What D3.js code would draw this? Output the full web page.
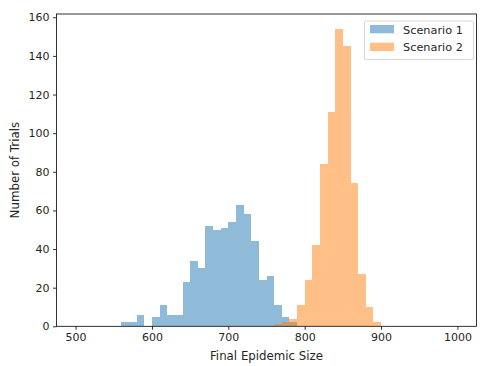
<!DOCTYPE html>
<html lang="en">
<head>
<meta charset="UTF-8">
<title>Final Epidemic Size</title>
<script src="https://d3js.org/d3.v7.min.js"></script>
<style>
	body{margin:0;background:#fff}
	svg text{font-family:"DejaVu Sans",sans-serif;fill:#262626}
</style>
</head>
<body>
<svg width="487" height="366"></svg>
<script>
// histogram counts, bin width 10
var binWidth = 10
var s1Start = 560
var s1Counts = [2,2,6,0,5,11,6,6,23,34,30,52,50,51,54,63,58,44,24,26,11,5,2]
var s2Start = 760
var s2Counts = [1,2,4,11,24,42,84,111,154,145,74,27,10,2]
var xTicks = [500,600,700,800,900,1000]
var yTicks = [0,20,40,60,80,100,120,140,160]
var seriesNames = ["Scenario 1","Scenario 2"]
var colors = ["#1f77b4","#ff7f0e"]

var svg = d3.select("svg")
var mLeft = 56.5, mRight = 476.5, mTop = 14, mBottom = 326.3

var x = d3.scaleLinear().domain([475,1025]).range([mLeft,mRight])
var yMax = d3.max(s1Counts.concat(s2Counts))*1.05
var y = d3.scaleLinear().domain([0,yMax]).range([mBottom,mTop])

function bars(start, counts, color){
	var d = counts.map(function(c,i){ return {x0:start+i*binWidth, c:c} })
	svg.append("g").selectAll("rect").data(d).enter().append("rect")
		.attr("x", function(d){ return x(d.x0) })
		.attr("width", function(d){ return x(d.x0+binWidth)-x(d.x0) })
		.attr("y", function(d){ return y(d.c) })
		.attr("height", function(d){ return y(0)-y(d.c) })
		.attr("fill", color)
		.attr("fill-opacity", 0.5)
		.attr("shape-rendering","crispEdges")
}
bars(s1Start, s1Counts, colors[0])
bars(s2Start, s2Counts, colors[1])

// axes
svg.append("g").attr("transform","translate(0,"+mBottom+")")
	.call(d3.axisBottom(x).tickValues(xTicks).tickFormat(d3.format("d")).tickSize(3.5).tickPadding(3.5))
svg.append("g").attr("transform","translate("+mLeft+",0)")
	.call(d3.axisLeft(y).tickValues(yTicks).tickFormat(d3.format("d")).tickSize(3.5).tickPadding(3.5))
svg.selectAll(".domain").remove()
svg.selectAll(".tick line").attr("stroke","#000").attr("stroke-width",0.8)
svg.selectAll(".tick text").attr("font-size","11px").attr("fill","#262626")

// frame
svg.append("rect").attr("x",mLeft).attr("y",mTop)
	.attr("width",mRight-mLeft).attr("height",mBottom-mTop)
	.attr("fill","none").attr("stroke","#000").attr("stroke-width",0.8)

// labels
svg.append("text").attr("x",(mLeft+mRight)/2).attr("y",360)
	.attr("text-anchor","middle").attr("font-size","11.8px").text("Final Epidemic Size")
svg.append("text").attr("transform","translate(18.5,"+((mTop+mBottom)/2)+") rotate(-90)")
	.attr("text-anchor","middle").attr("font-size","11.8px").text("Number of Trials")

// legend
var lg = svg.append("g").attr("transform","translate(364.5,21)")
lg.append("rect").attr("width",109).attr("height",38.5).attr("rx",2)
	.attr("fill","#fff").attr("fill-opacity",0.8).attr("stroke","#ccc").attr("stroke-width",0.8)
seriesNames.forEach(function(n,i){
	lg.append("rect").attr("x",5.5).attr("y",4+i*17.7).attr("width",24).attr("height",8.3)
		.attr("fill",colors[i]).attr("fill-opacity",0.5)
	lg.append("text").attr("x",38.5).attr("y",12.5+i*17.7).attr("font-size","11.3px").text(n)
})
</script>
</body>
</html>
